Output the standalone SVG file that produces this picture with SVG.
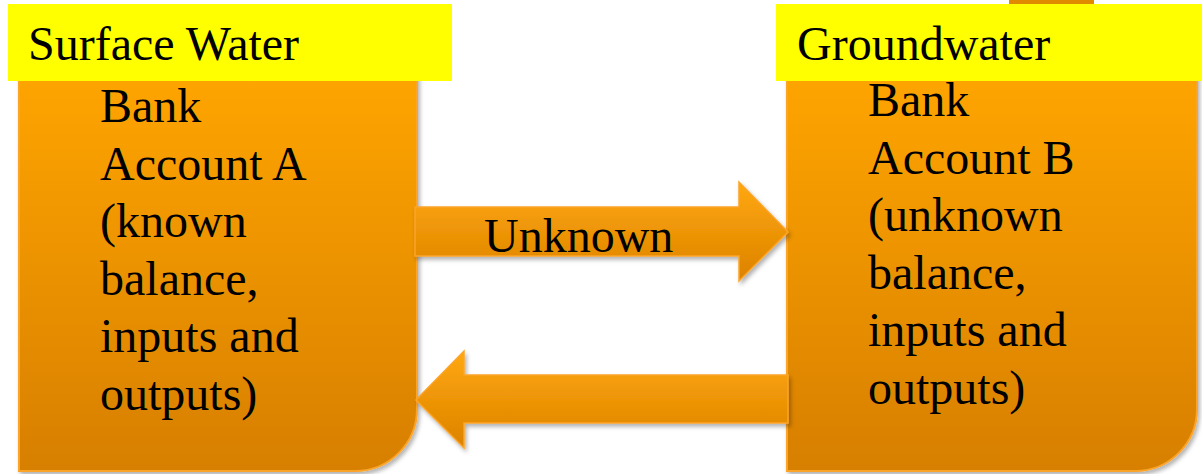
<svg xmlns="http://www.w3.org/2000/svg" width="1202" height="474" viewBox="0 0 1202 474">
  <style>
    .t { font-family: "Liberation Serif", "Times New Roman", serif; font-size: 48px; fill: #000; }
    .box { fill: url(#og); stroke: #fba42a; stroke-width: 2; filter: url(#sh); }
    .arr { fill: url(#ag); stroke: #fba42a; stroke-width: 1.5; filter: url(#sh); }
    .lbl { fill: #ffff00; }
  </style>
  <defs>
    <linearGradient id="og" x1="0" y1="0" x2="0" y2="1">
      <stop offset="0" stop-color="#ffa503"/>
      <stop offset="1" stop-color="#d77f00"/>
    </linearGradient>
    <linearGradient id="ag" x1="0" y1="0" x2="0" y2="1">
      <stop offset="0" stop-color="#ffa80d"/>
      <stop offset="1" stop-color="#dc8200"/>
    </linearGradient>
    <filter id="sh" x="-10%" y="-10%" width="120%" height="130%">
      <feDropShadow dx="2" dy="3" stdDeviation="2" flood-color="#000" flood-opacity="0.3"/>
    </filter>
  </defs>

  <rect x="1009" y="0" width="85" height="10" fill="#e08a00"/>

  <g id="node-surface">
    <path class="box" d="M19,70 H417 V409 A62,62 0 0 1 355,471 H19 Z"/>
    <rect class="lbl" x="8" y="4" width="444" height="77"/>
    <text class="t" x="28" y="60">Surface Water</text>
    <text class="t" x="100">
      <tspan x="100" y="122">Bank</tspan>
      <tspan x="100" y="179.5">Account A</tspan>
      <tspan x="100" y="237">(known</tspan>
      <tspan x="100" y="294.5">balance,</tspan>
      <tspan x="100" y="352">inputs and</tspan>
      <tspan x="100" y="409.5">outputs)</tspan>
    </text>
  </g>

  <g id="node-ground">
    <path class="box" d="M787,70 H1197 V409 A62,62 0 0 1 1135,471 H787 Z"/>
    <rect class="lbl" x="776" y="4" width="426" height="77"/>
    <text class="t" x="797" y="60">Groundwater</text>
    <text class="t" x="868">
      <tspan x="868" y="116">Bank</tspan>
      <tspan x="868" y="173.5">Account B</tspan>
      <tspan x="868" y="231">(unknown</tspan>
      <tspan x="868" y="288.5">balance,</tspan>
      <tspan x="868" y="346">inputs and</tspan>
      <tspan x="868" y="403.5">outputs)</tspan>
    </text>
  </g>

  <g id="connectors">
    <path class="arr" d="M415,207 H739 V182 L788,232 L739,281 V256 H415 Z"/>
    <text class="t" x="484" y="252">Unknown</text>
    <path class="arr" d="M788,375 H464 V351 L416,400 L464,448 V423 H788 Z"/>
  </g>
</svg>
